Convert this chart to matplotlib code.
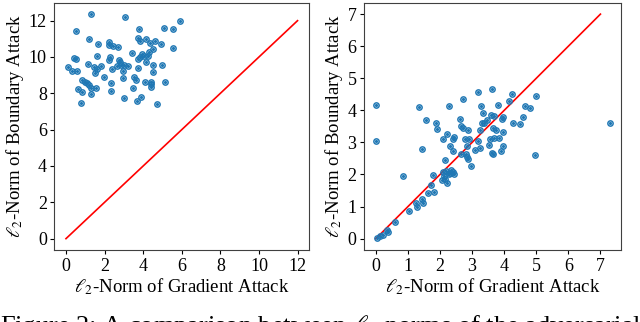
import matplotlib
matplotlib.use("Agg")
import matplotlib.pyplot as plt

plt.rcParams['font.family'] = ['Liberation Serif', 'DejaVu Serif']
plt.rcParams['mathtext.fontset'] = 'stix'

# Left panel: gradient attack vs boundary attack (first model)
grad_a = [1.28, 3.06, 5.90, 0.54, 3.78, 5.10, 5.53, 1.19, 3.74, 4.17, 4.63, 3.83,
          4.34, 1.65, 2.21, 2.25, 2.42, 2.72, 4.93, 5.53, 4.51, 4.31, 3.40, 1.61,
          0.42, 0.54, 3.95, 4.05, 3.83, 3.74, 4.25, 4.17, 2.26, 2.21, 2.76, 2.81,
          2.84, 3.03, 3.23, 2.64, 1.15, 0.13, 0.31, 0.59, 1.45, 1.79, 1.61, 1.48,
          2.38, 2.93, 3.71, 4.51, 4.98, 4.51, 1.96, 2.93, 3.54, 3.61, 0.82, 0.99,
          1.10, 1.19, 2.35, 4.09, 4.42, 5.11, 4.42, 4.42, 0.64, 0.85, 1.53, 1.28,
          2.35, 3.45, 1.31, 3.03, 3.88, 3.69, 0.80, 4.73]
bound_a = [12.36, 12.21, 12.00, 11.45, 11.55, 11.60, 11.52, 10.99, 11.06, 10.99, 10.90, 10.86,
           10.79, 10.71, 10.84, 10.66, 10.60, 10.57, 10.70, 10.48, 10.44, 10.26, 10.24, 10.07,
           9.96, 9.90, 10.16, 10.07, 9.98, 9.87, 10.05, 9.74, 9.98, 9.83, 9.83, 9.73,
           9.56, 9.54, 9.51, 9.52, 9.60, 9.47, 9.23, 9.23, 9.43, 9.51, 9.34, 9.10,
           9.34, 9.25, 9.38, 9.19, 9.56, 9.56, 8.92, 8.86, 8.92, 8.74, 8.72, 8.64,
           8.55, 8.46, 8.55, 8.64, 8.64, 8.64, 8.50, 8.34, 8.22, 8.09, 8.28, 8.28,
           8.13, 8.31, 7.97, 7.76, 7.82, 7.60, 7.46, 7.42]

# Right panel: gradient attack vs boundary attack (second model)
grad_b = [0.00, 0.00, 1.34, 1.55, 1.86, 1.90, 2.28, 2.72, 3.18, 3.62, 4.25, 4.16,
          4.99, 3.27, 3.81, 4.64, 4.81, 3.34, 3.58, 2.61, 3.47, 3.37, 3.32, 3.97,
          3.92, 3.68, 4.60, 4.26, 4.49, 7.29, 2.64, 2.72, 2.87, 3.24, 3.66, 3.76,
          3.95, 2.23, 2.45, 2.09, 2.42, 2.78, 2.89, 3.55, 3.69, 3.84, 3.17, 2.30,
          2.85, 3.52, 3.95, 2.40, 3.08, 3.24, 3.90, 1.44, 4.96, 3.62, 3.66, 2.66,
          2.82, 2.85, 2.14, 2.87, 2.95, 0.86, 1.77, 2.09, 2.19, 2.30, 2.40, 2.35,
          2.43, 2.28, 2.12, 2.17, 2.07, 2.21, 1.73, 1.62, 1.81, 1.44, 1.46, 1.25,
          1.28, 1.02, 0.60, 0.36, 0.39, 0.21, 0.13, 0.03]
bound_b = [4.16, 3.05, 4.11, 3.69, 3.61, 3.42, 4.14, 4.35, 4.57, 4.65, 4.51, 4.30,
           4.44, 4.13, 4.16, 4.15, 4.07, 3.91, 3.87, 3.73, 3.71, 3.61, 3.61, 3.79,
           3.72, 3.82, 3.79, 3.61, 3.58, 3.60, 3.52, 3.44, 3.38, 3.38, 3.44, 3.38,
           3.31, 3.26, 3.17, 3.12, 3.10, 3.10, 3.12, 3.12, 3.13, 3.13, 3.03, 2.90,
           2.88, 2.93, 2.90, 2.74, 2.77, 2.84, 2.74, 2.81, 2.61, 2.68, 2.65, 2.64,
           2.64, 2.53, 2.45, 2.48, 2.28, 1.94, 1.97, 2.07, 2.12, 2.05, 2.07, 2.15,
           2.02, 2.02, 1.94, 1.87, 1.82, 1.75, 1.66, 1.43, 1.44, 1.25, 1.10, 1.12,
           1.00, 0.87, 0.53, 0.28, 0.21, 0.12, 0.09, 0.02]

# y = x reference lines
diag_a = [0, 12]
diag_b = [0, 7]
ticks_a = [0, 2, 4, 6, 8, 10, 12]
ticks_b = [0, 1, 2, 3, 4, 5, 6, 7]

caption = r"Figure 2: A comparison between $\ell_2$ norms of the adversarial"


def panel(ax, x, y, diag, ticks):
    # light filled circles with a dot in the middle
    ax.scatter(x, y, s=15, facecolors=(0.12, 0.47, 0.71, 0.25),
               edgecolors='#1f77b4', linewidths=1.0, zorder=3)
    ax.scatter(x, y, s=1.5, color='#1f77b4', zorder=4)
    ax.plot(diag, diag, color='red', lw=1.2, zorder=2)
    ax.set_xticks(ticks)
    ax.set_yticks(ticks)
    ax.tick_params(labelsize=13, length=3, pad=2.5)
    ax.set_xlabel(r"$\ell_2$-Norm of Gradient Attack", fontsize=13.5, labelpad=1)
    ax.set_ylabel(r"$\ell_2$-Norm of Boundary Attack", fontsize=13.5, labelpad=2)
    for sp in ax.spines.values():
        sp.set_color('0.25')


fig = plt.figure(figsize=(6.4, 3.22), dpi=100)
ax1 = fig.add_axes([0.085, 0.224, 0.398, 0.767])
ax2 = fig.add_axes([0.569, 0.224, 0.402, 0.767])

panel(ax1, grad_a, bound_a, diag_a, ticks_a)
panel(ax2, grad_b, bound_b, diag_b, ticks_b)

fig.text(0.0, 1 - 313 / 322, caption, fontsize=19, va='top', ha='left')

fig.savefig("out.png", dpi=100)
